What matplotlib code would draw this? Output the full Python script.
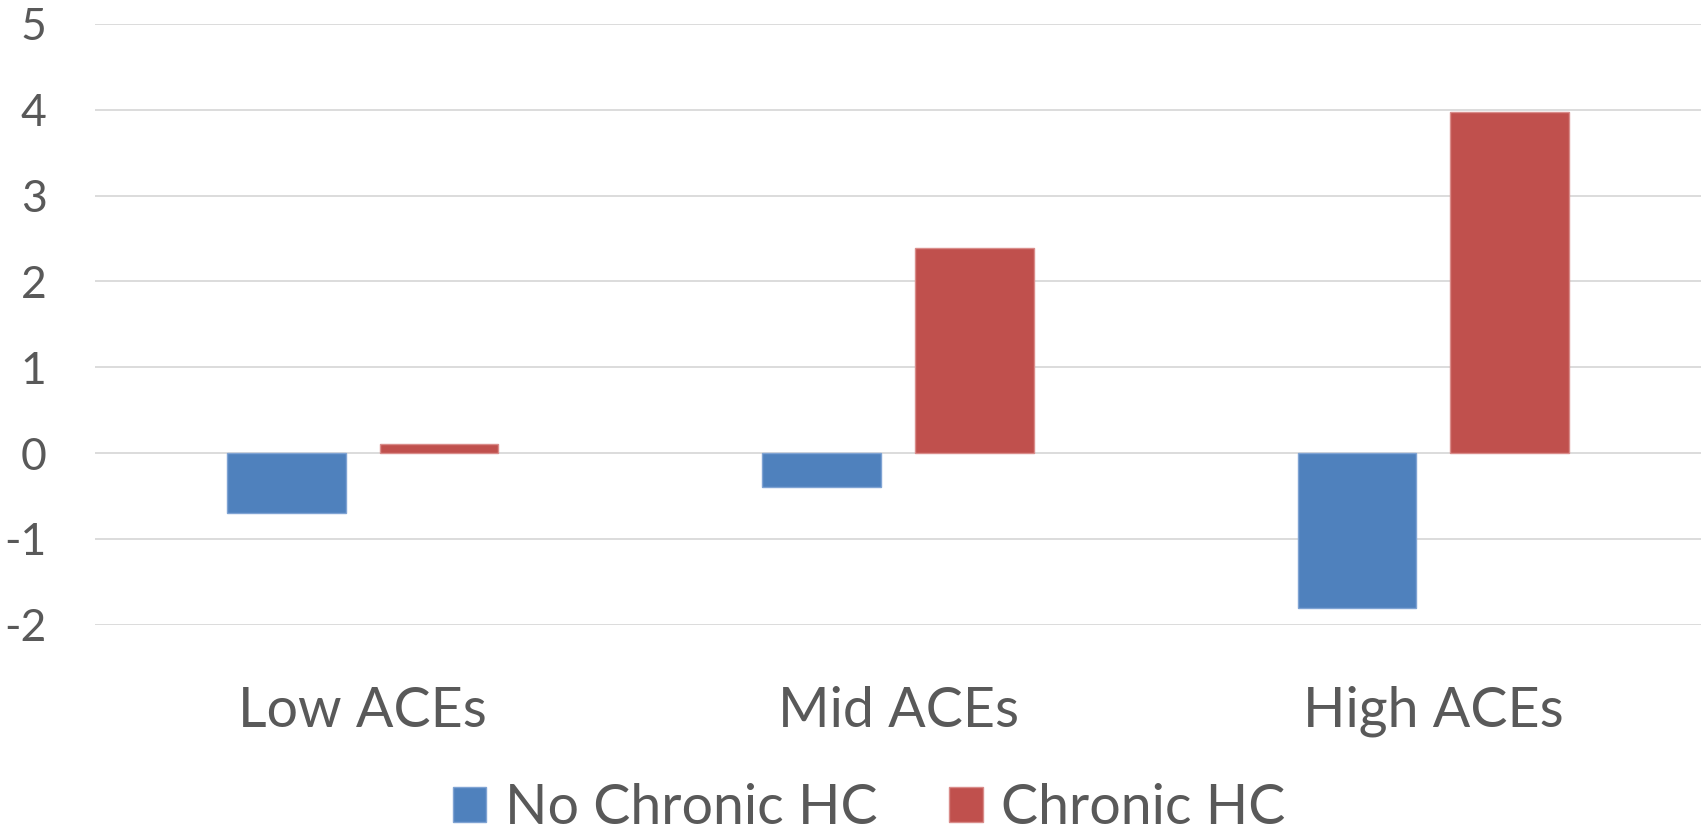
import matplotlib
matplotlib.use("Agg")
import matplotlib.pyplot as plt
from matplotlib.patches import Patch
import numpy as np

# data
CATEGORIES = ["Low ACEs", "Mid ACEs", "High ACEs"]
NO_CHRONIC_HC = [-0.70, -0.40, -1.81]
CHRONIC_HC = [0.11, 2.39, 3.97]
SERIES_NAMES = ["No Chronic HC", "Chronic HC"]
Y_TICKS = [-2, -1, 0, 1, 2, 3, 4, 5]

# look
COLOR_BLUE = "#4F81BD"
COLOR_RED = "#C0504D"
EDGE_BLUE = "#7FA3D3"
EDGE_RED = "#D98C8A"
TEXT_COLOR = "#595959"
GRID_COLOR = "#D9D9D9"
FONT = "Lato"

BAR_WIDTH = 0.222
OFFSET = 0.1425


def main():
    fig = plt.figure(figsize=(17.01, 8.32), dpi=100)
    ax = fig.add_axes([0.0559, 0.2492, 0.9441, 0.722])

    x = np.arange(len(CATEGORIES))
    ax.bar(x - OFFSET, NO_CHRONIC_HC, width=BAR_WIDTH, color=COLOR_BLUE,
           edgecolor=EDGE_BLUE, linewidth=1, zorder=3)
    ax.bar(x + OFFSET, CHRONIC_HC, width=BAR_WIDTH, color=COLOR_RED,
           edgecolor=EDGE_RED, linewidth=1, zorder=3)

    ax.set_xlim(-0.5, len(CATEGORIES) - 0.5)
    ax.set_ylim(-2, 5)
    ax.set_yticks(Y_TICKS)
    ax.set_yticklabels([str(t) for t in Y_TICKS])
    ax.set_xticks(x)
    ax.set_xticklabels(CATEGORIES)

    ax.yaxis.grid(True, color=GRID_COLOR, linewidth=1.3, zorder=0)
    ax.set_axisbelow(True)
    for s in ax.spines.values():
        s.set_visible(False)

    ax.tick_params(axis="y", length=0, pad=35, labelsize=32, labelcolor=TEXT_COLOR)
    ax.tick_params(axis="x", length=0, pad=44, labelsize=40, labelcolor=TEXT_COLOR)
    for lbl in ax.get_yticklabels() + ax.get_xticklabels():
        lbl.set_fontfamily(FONT)

    handles = [Patch(facecolor=COLOR_BLUE, edgecolor=EDGE_BLUE),
               Patch(facecolor=COLOR_RED, edgecolor=EDGE_RED)]
    leg = fig.legend(handles, SERIES_NAMES, loc="center", bbox_to_anchor=(0.511, 0.028),
                     ncol=2, frameon=False, handlelength=0.6, handleheight=0.6,
                     handletextpad=0.34, columnspacing=1.29,
                     prop={"family": FONT, "size": 40})
    for t in leg.get_texts():
        t.set_color(TEXT_COLOR)

    fig.savefig("out.png", dpi=100, facecolor="white")


if __name__ == "__main__":
    main()
